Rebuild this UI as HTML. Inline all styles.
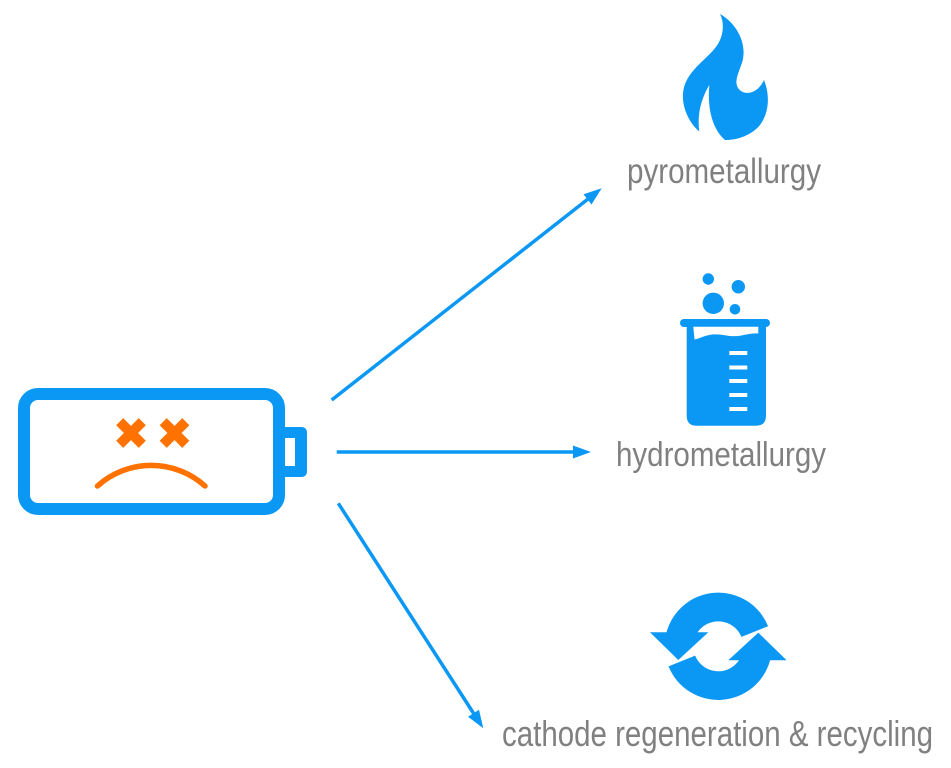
<!DOCTYPE html>
<html>
<head>
<meta charset="utf-8">
<style>
  html, body { margin: 0; padding: 0; background: #ffffff; }
  svg { display: block; }
  text { font-family: "Liberation Sans", "DejaVu Sans", sans-serif; fill: #808080; }
</style>
</head>
<body>
<svg width="951" height="768" viewBox="0 0 951 768" xmlns="http://www.w3.org/2000/svg">
  <rect x="0" y="0" width="951" height="768" fill="#ffffff"/>

  <!-- Battery -->
  <rect x="24" y="394" width="255" height="115" rx="14" ry="14" fill="none" stroke="#0b98f5" stroke-width="12"/>
  <path d="M283,427 H301 Q307,427 307,433 V471 Q307,477 301,477 H283 V466 H295 V438 H283 Z" fill="#0b98f5"/>

  <!-- Sad face -->
  <g stroke="#ff7200" stroke-width="10" stroke-linecap="butt">
    <line x1="119.7" y1="421.7" x2="142.3" y2="444.3"/>
    <line x1="142.3" y1="421.7" x2="119.7" y2="444.3"/>
    <line x1="163.2" y1="421.7" x2="185.8" y2="444.3"/>
    <line x1="185.8" y1="421.7" x2="163.2" y2="444.3"/>
  </g>
  <path d="M97.5,486 A80.4,80.4 0 0 1 205,486" fill="none" stroke="#ff7200" stroke-width="5.5" stroke-linecap="round"/>

  <!-- Arrows -->
  <g stroke="#0b98f5" stroke-width="3.5" fill="none">
    <line x1="331.7" y1="400" x2="588" y2="199"/>
    <line x1="336.7" y1="452" x2="575" y2="452"/>
    <line x1="338.3" y1="503.3" x2="474" y2="714"/>
  </g>
  <g fill="#0b98f5">
    <polygon points="601.7,188.3 591.5,204.5 583.5,194.3"/>
    <polygon points="591,452 573,445.5 573,458.5"/>
    <polygon points="483.3,728.3 479,709.7 468,716.7"/>
  </g>

  <!-- Flame -->
  <g transform="translate(660,0) scale(0.33333)">
    <path fill="#0b98f5" d="M180,42
      C230,70 262,130 247,185
      C238,215 220,245 235,265
      C252,288 292,283 312,240
      C332,290 326,345 296,380
      C266,410 228,420 195,420
      C165,395 140,340 148,255
      C126,292 110,340 118,395
      C80,362 58,302 74,255
      C94,200 150,172 175,130
      C192,100 192,65 180,42 Z"/>
  </g>

  <!-- Beaker -->
  <g fill="#0b98f5">
    <circle cx="708.3" cy="279" r="5.7"/>
    <circle cx="738.3" cy="286.7" r="6.7"/>
    <circle cx="713.3" cy="303.3" r="10.7"/>
    <circle cx="735" cy="309.3" r="5.3"/>
    <rect x="680" y="319" width="90" height="8" rx="4" ry="4"/>
    <path d="M686.7,323 H766 V415.7 Q766,425.7 756,425.7 H696.7 Q686.7,425.7 686.7,415.7 Z"/>
  </g>
  <path fill="#ffffff" d="M693.3,326.8 H758.3 V333.5 C750,333 744,335.5 738,336 C728,337 722,333.5 712,334.5 C704,335.5 700,338.5 694.5,339.5 Z"/>
  <g fill="#ffffff">
    <rect x="729.3" y="351" width="18" height="4"/>
    <rect x="729.3" y="365.5" width="18" height="4"/>
    <rect x="729.3" y="379" width="18" height="4"/>
    <rect x="729.3" y="393" width="18" height="4"/>
    <rect x="729.3" y="407" width="18" height="4"/>
  </g>

  <!-- Recycle icon -->
  <g transform="translate(718.3,646.3) scale(0.33333)" fill="#0b98f5">
    <path d="M149.3,-60.3 A161,161 0 0 0 -155.4,-42 L-205,-42 L-120,41 L-30,-42 L-62.1,-42 A75,75 0 0 1 69.5,-28.1 Z"/>
    <path transform="rotate(180)" d="M149.3,-60.3 A161,161 0 0 0 -155.4,-42 L-205,-42 L-120,41 L-30,-42 L-62.1,-42 A75,75 0 0 1 69.5,-28.1 Z"/>
  </g>

  <!-- Labels -->
  <text x="627" y="183" font-size="35" textLength="194" lengthAdjust="spacingAndGlyphs">pyrometallurgy</text>
  <text x="616" y="466" font-size="34" textLength="210" lengthAdjust="spacingAndGlyphs">hydrometallurgy</text>
  <text x="502" y="746" font-size="36" textLength="431" lengthAdjust="spacingAndGlyphs">cathode regeneration &amp; recycling</text>
</svg>
</body>
</html>
